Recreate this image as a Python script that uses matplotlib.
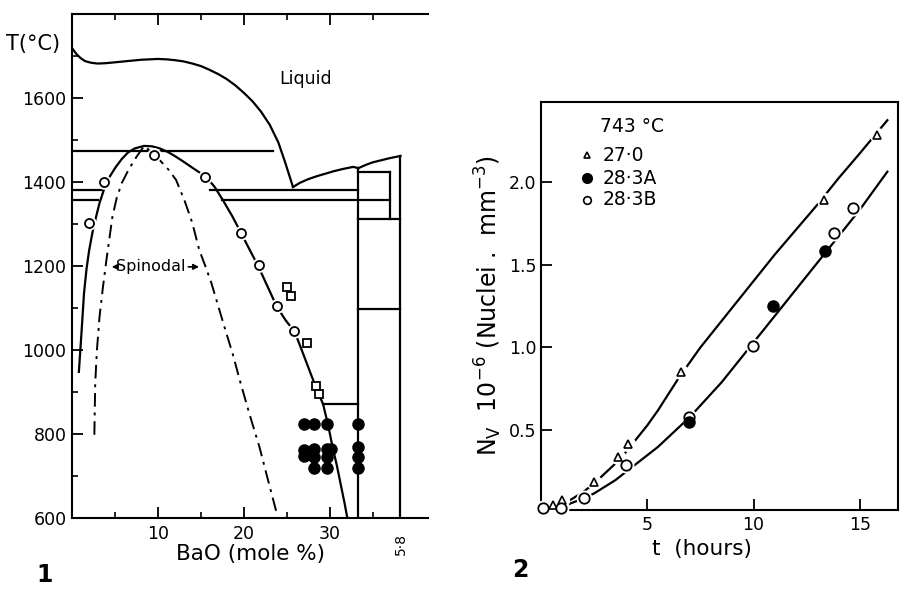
import matplotlib
matplotlib.use("Agg")
import matplotlib.pyplot as plt
import numpy as np

plt.rcParams['font.family'] = ['DejaVu Sans']
plt.rcParams['mathtext.default'] = 'regular'

# ---------------- Panel 1 data (BaO mole %, T degC) ----------------
liq_x = [0.0, 0.5, 1.0, 1.5, 2.2, 3.0, 4.0, 5.0, 6.0, 7.0, 8.0, 9.0, 10.0, 11.0, 12.0, 13.0,
         14.0, 15.0, 16.0, 17.0, 18.0, 19.0, 20.0, 21.0, 22.0, 23.0, 24.0, 24.8, 25.7]
liq_T = [1719, 1705, 1695, 1688, 1684, 1682, 1683, 1685, 1687, 1689, 1691, 1692, 1693, 1692,
         1690, 1687, 1682, 1676, 1667, 1657, 1645, 1630, 1612, 1592, 1567, 1536, 1494, 1446, 1388]
liq2_x = [25.7, 26.5, 27.5, 28.5, 29.5, 30.5, 31.5, 32.7, 33.3]
liq2_T = [1388, 1398, 1407, 1414, 1420, 1426, 1431, 1436, 1433]
liq3_x = [33.3, 34.2, 35.0, 36.0, 37.0, 38.2]
liq3_T = [1433, 1441, 1447, 1452, 1457, 1462]

bin_x = [0.8, 1.1, 1.4, 1.7, 2.0, 2.4, 2.8, 3.2, 3.7, 4.3, 5.1, 5.8, 6.5, 7.3, 8.4, 9.3, 10.2,
         11.2, 12.1, 13.0, 14.0, 14.8, 15.6, 16.6, 17.6, 18.6, 19.5, 20.5, 21.6, 22.7, 23.8,
         24.8, 25.9, 26.9, 27.9, 28.6, 29.2, 29.8, 30.3, 30.8, 31.3, 31.7, 32.0]
bin_T = [948, 1040, 1136, 1195, 1238, 1282, 1317, 1350, 1381, 1410, 1436, 1455, 1470, 1480, 1486,
         1485, 1480, 1471, 1460, 1448, 1434, 1423, 1412, 1388, 1355, 1320, 1285, 1245, 1202,
         1153, 1104, 1072, 1043, 990, 936, 900, 871, 820, 769, 725, 675, 635, 602]

spi_x = [2.6, 2.65, 2.7, 2.9, 3.2, 3.6, 4.0, 4.7, 5.2, 5.8, 6.6, 7.5, 8.4, 9.3, 10.2, 11.2,
         12.1, 13.1, 14.0, 14.8, 15.5, 16.2, 17.0, 17.8, 18.7, 19.5, 20.6, 21.8, 22.8, 23.8]
spi_T = [798, 860, 921, 1000, 1079, 1150, 1214, 1317, 1362, 1398, 1430, 1460, 1486, 1470, 1452,
         1430, 1405, 1355, 1302, 1238, 1200, 1160, 1105, 1050, 990, 929, 850, 769, 690, 612]

open_x = [2.0, 3.7, 9.5, 15.5, 19.7, 21.7, 23.8, 25.8]
open_T = [1302, 1400, 1464, 1412, 1279, 1202, 1105, 1045]

sq_x = [25.0, 25.5, 27.3, 28.4, 28.7]
sq_T = [1150, 1129, 1017, 914, 895]

fill_x = [27.0, 28.2, 29.7, 33.3, 27.0, 28.2, 29.7, 30.1, 33.3,
          27.0, 28.2, 29.7, 33.3, 28.2, 29.7, 33.3]
fill_T = [824, 824, 824, 824, 762, 765, 765, 765, 768,
          748, 745, 745, 745, 718, 718, 718]

# horizontal isotherm segments: (x_start, x_end, T)
hseg_x0 = [0.0, 0.0, 16.0, 0.0, 17.5, 33.3, 33.3, 33.3, 29.2]
hseg_x1 = [23.4, 3.5, 33.3, 3.0, 37.0, 37.0, 38.2, 38.2, 33.3]
hseg_T = [1473, 1381, 1381, 1356, 1356, 1424, 1312, 1098, 871]

# vertical segments: (x, T_bottom, T_top)
vseg_x = [33.3, 37.0, 38.2]
vseg_T0 = [600, 1312, 600]
vseg_T1 = [1433, 1424, 1462]

# ---------------- Panel 2 data (t hours, Nv 1e-6) ----------------
tri_t = [0.56, 1.0, 2.5, 3.6, 4.1, 6.6, 13.3, 15.8]
tri_N = [0.05, 0.08, 0.19, 0.34, 0.42, 0.85, 1.89, 2.28]

a_t = [6.96, 10.9, 13.35]
a_N = [0.55, 1.25, 1.58]

b_t = [0.1, 0.94, 2.0, 4.0, 6.96, 9.97, 13.8, 14.67]
b_N = [0.03, 0.035, 0.09, 0.29, 0.58, 1.01, 1.69, 1.84]

up_t = [1.0, 1.5, 2.0, 2.5, 3.0, 3.5, 4.0, 4.5, 5.0, 5.5, 6.0, 6.5, 7.0, 7.5, 8.0, 9.0, 10.0,
        11.0, 12.0, 13.0, 14.0, 15.0, 16.3]
up_N = [0.05, 0.09, 0.13, 0.18, 0.24, 0.30, 0.37, 0.45, 0.53, 0.62, 0.72, 0.82, 0.91, 1.00,
        1.08, 1.24, 1.40, 1.56, 1.71, 1.86, 2.02, 2.17, 2.37]

lo_t = [1.0, 1.5, 2.0, 2.5, 3.0, 3.5, 4.0, 4.5, 5.0, 5.5, 6.0, 6.5, 7.0, 7.5, 8.0, 8.5, 9.0,
        9.5, 10.0, 11.0, 12.0, 13.0, 14.0, 15.0, 16.3]
lo_N = [0.04, 0.065, 0.09, 0.12, 0.16, 0.20, 0.25, 0.30, 0.35, 0.40, 0.46, 0.52, 0.58, 0.65,
        0.72, 0.79, 0.87, 0.95, 1.03, 1.19, 1.35, 1.51, 1.67, 1.83, 2.06]

W, H = 901, 592
fig = plt.figure(figsize=(W / 100, H / 100), dpi=100)

def fx(px):
    return px / W

def fy(py):
    return 1 - py / H

lw = 1.6
# ---------------- Panel 1 ----------------
ax1 = fig.add_axes([fx(72), fy(518), (428 - 72) / W, (518 - 14) / H])
ax1.set_xlim(0, 41.4)
ax1.set_ylim(600, 1800)
ax1.spines['right'].set_visible(False)
for s in ['left', 'top', 'bottom']:
    ax1.spines[s].set_linewidth(1.5)

ax1.plot(liq_x, liq_T, color='black', lw=lw)
ax1.plot(liq2_x, liq2_T, color='black', lw=lw)
ax1.plot(liq3_x, liq3_T, color='black', lw=lw)
ax1.plot(bin_x, bin_T, color='black', lw=lw, zorder=3)
ax1.plot(spi_x, spi_T, color='black', lw=1.4, linestyle=(0, (7, 3, 1.5, 3)), zorder=3)
for x0, x1, t in zip(hseg_x0, hseg_x1, hseg_T):
    ax1.plot([x0, x1], [t, t], color='black', lw=lw)
for x, t0, t1 in zip(vseg_x, vseg_T0, vseg_T1):
    ax1.plot([x, x], [t0, t1], color='black', lw=lw)

ax1.plot(open_x, open_T, 'o', ms=9.5, mfc='white', mec='white', zorder=4, ls='none')
ax1.plot(open_x, open_T, 'o', ms=6.5, mfc='white', mec='black', mew=1.3, zorder=5, ls='none')
ax1.plot(sq_x, sq_T, 's', ms=5.5, mfc='white', mec='black', mew=1.3, zorder=5, ls='none')
ax1.plot(fill_x, fill_T, 'o', ms=8, mfc='black', mec='black', zorder=5, ls='none')

ax1.set_xticks([10, 20, 30])
ax1.set_xticks([5, 15, 25, 35], minor=True)
ax1.set_yticks([600, 800, 1000, 1200, 1400, 1600])
ax1.set_yticks([700, 900, 1100, 1300, 1500, 1700], minor=True)
ax1.tick_params(axis='both', which='major', direction='in', length=8, width=1.3,
                labelsize=12.5, top=True, pad=4)
ax1.tick_params(axis='both', which='minor', direction='in', length=4, width=1.2, top=True)
ax1.tick_params(axis='x', which='major', pad=5)
ax1.set_xlabel('BaO (mole %)', fontsize=15.5, labelpad=1)

ax1.text(27.2, 1645, 'Liquid', fontsize=12.5, ha='center', va='center')
ax1.text(9.2, 1198, 'Spinodal', fontsize=11.5, ha='center', va='center')
ax1.annotate('', xy=(4.3, 1198), xytext=(5.4, 1198),
             arrowprops=dict(arrowstyle='-|>', color='black', lw=1.2, mutation_scale=8))
ax1.annotate('', xy=(15.1, 1198), xytext=(13.2, 1198),
             arrowprops=dict(arrowstyle='-|>', color='black', lw=1.2, mutation_scale=8))
ax1.text(38.3, 565, '5·8', rotation=90, fontsize=10, ha='center', va='top', clip_on=False)

fig.text(fx(33), fy(44), 'T(°C)', fontsize=15, ha='center', va='center')
fig.text(fx(45), fy(575), '1', fontsize=17, fontweight='bold', ha='center', va='center')

# ---------------- Panel 2 ----------------
ax2 = fig.add_axes([fx(541), fy(510), (898 - 541) / W, (510 - 102) / H])
ax2.set_xlim(0, 16.8)
ax2.set_ylim(0.02, 2.48)
for s in ax2.spines.values():
    s.set_linewidth(1.5)

ax2.plot(up_t, up_N, color='black', lw=lw, zorder=2)
ax2.plot(lo_t, lo_N, color='black', lw=lw, zorder=2)
ax2.plot(tri_t, tri_N, 'o', ms=10, mfc='white', mec='white', ls='none', zorder=4, clip_on=False)
ax2.plot(b_t, b_N, 'o', ms=10.5, mfc='white', mec='white', ls='none', zorder=4, clip_on=False)
ax2.plot(tri_t, tri_N, '^', ms=6, mfc='white', mec='black', mew=1.2, ls='none',
         zorder=5, clip_on=False)
ax2.plot(b_t, b_N, 'o', ms=7.5, mfc='white', mec='black', mew=1.3, ls='none',
         zorder=5, clip_on=False)
ax2.plot(a_t, a_N, 'o', ms=8, mfc='black', mec='black', ls='none', zorder=6, clip_on=False)

ax2.set_xticks([5, 10, 15])
ax2.set_yticks([0.5, 1.0, 1.5, 2.0])
ax2.set_yticklabels(['0.5', '1.0', '1.5', '2.0'])
ax2.tick_params(axis='both', direction='in', length=8, width=1.3, labelsize=12.5)
ax2.tick_params(axis='x', pad=4)
ax2.set_xlabel('t  (hours)', fontsize=15.5, labelpad=-2)
ax2.xaxis.set_label_coords((702 - 541) / (898 - 541), -0.07)
ax2.set_ylabel(r'N$_V$  10$^{-6}$ (Nuclei .  mm$^{-3}$)', fontsize=17, labelpad=3)

# legend (drawn as text + markers inside the axes)
ax2.text(2.8, 2.33, '743 °C', fontsize=13.5, ha='left', va='center')
leg_y = [2.16, 2.02, 1.89]
leg_lbl = ['27·0', '28·3A', '28·3B']
ax2.plot([2.15], [leg_y[0]], '^', ms=5, mfc='white', mec='black', mew=1.2)
ax2.plot([2.15], [leg_y[1]], 'o', ms=7, mfc='black', mec='black')
ax2.plot([2.15], [leg_y[2]], 'o', ms=5.5, mfc='white', mec='black', mew=1.2)
for yy, lb in zip(leg_y, leg_lbl):
    ax2.text(2.9, yy, lb, fontsize=13.5, ha='left', va='center')

fig.text(fx(520), fy(570), '2', fontsize=17, fontweight='bold', ha='center', va='center')

fig.savefig('out.png', dpi=100)
